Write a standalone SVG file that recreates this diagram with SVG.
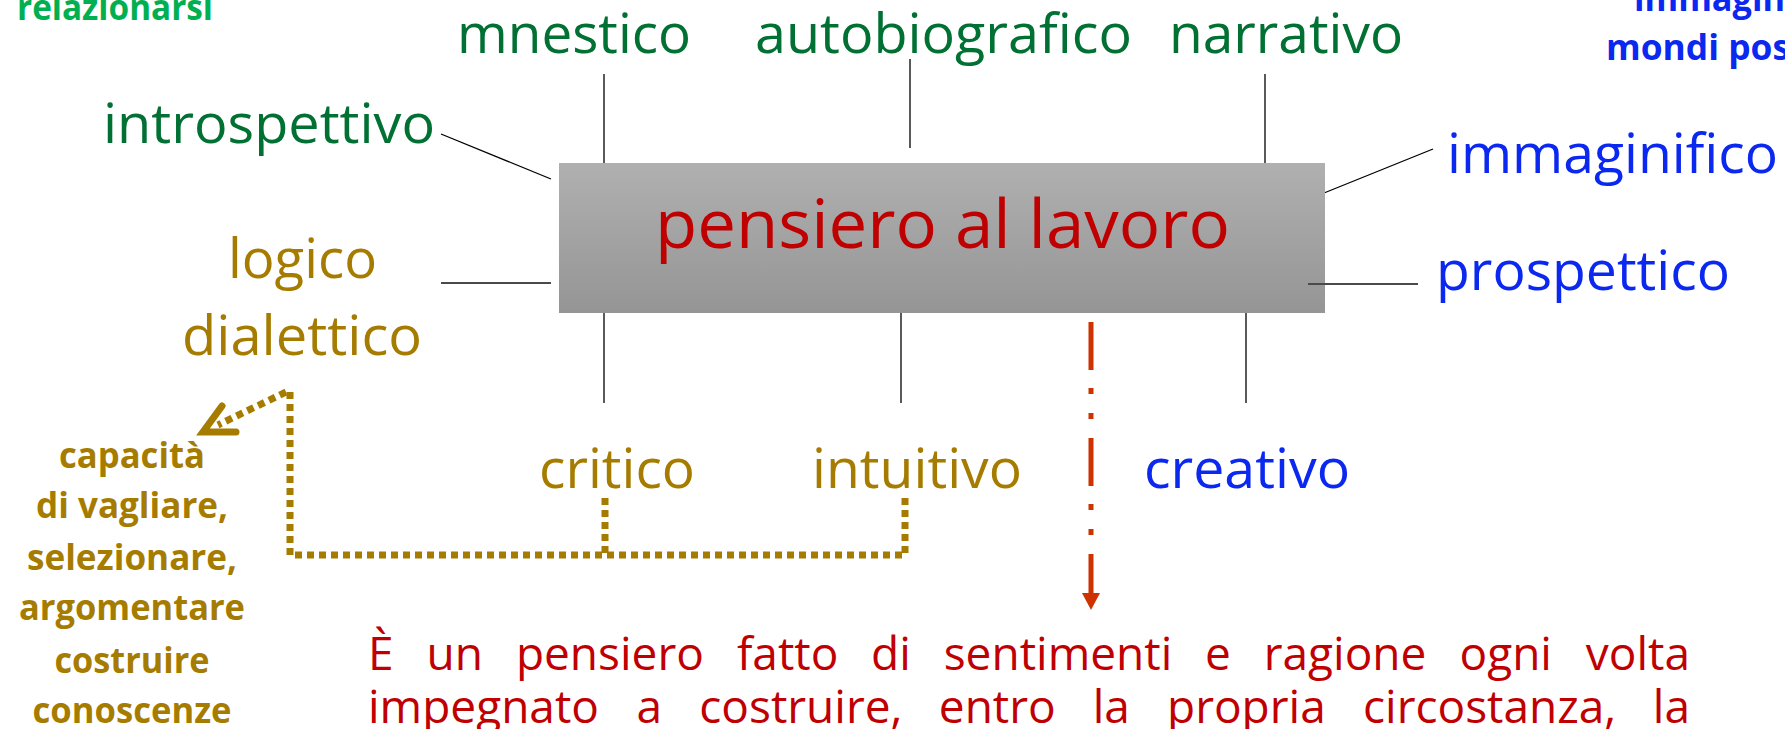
<svg xmlns="http://www.w3.org/2000/svg" width="1785" height="729" viewBox="0 0 1785 729">
<style>
  text { font-family: "Open Sans", "Noto Sans", "Liberation Sans", sans-serif; }
  .lbl { font-size: 55px; }
  .bold { font-weight: bold; font-size: 36px; }
  .green { fill: #007033; }
  .lgreen { fill: #00B050; }
  .gold { fill: #A67C00; }
  .blue { fill: #0A28F0; }
  .red { fill: #C00000; }
  .thin { stroke: #000; stroke-width: 1.3; fill: none; }
  .grey { stroke: #4a4a4a; stroke-width: 2.2; fill: none; }
  .dots { stroke: #A67C00; stroke-width: 7; fill: none; stroke-dasharray: 7 5; }
  .para { font-size: 46px; }
</style>
<defs>
  <linearGradient id="boxg" x1="0" y1="0" x2="0" y2="1">
    <stop offset="0" stop-color="#B0B0B0"/>
    <stop offset="1" stop-color="#959595"/>
  </linearGradient>
</defs>

<g id="corner-texts">
  <text class="bold lgreen" x="17" y="20" textLength="196" lengthAdjust="spacingAndGlyphs">relazionarsi</text>
  <text class="bold blue" x="1634" y="11" textLength="151" lengthAdjust="spacingAndGlyphs">immagin</text>
  <text class="bold blue" x="1606" y="60" textLength="184" lengthAdjust="spacingAndGlyphs">mondi pos</text>
</g>

<g id="connectors">
  <line class="thin" x1="441" y1="134" x2="551" y2="179"/>
  <line class="thin" x1="604" y1="74" x2="604" y2="163"/>
  <line class="thin" x1="910" y1="59" x2="910" y2="148"/>
  <line class="thin" x1="1265" y1="74" x2="1265" y2="163"/>
  <line class="thin" x1="1324" y1="193" x2="1433" y2="149"/>
  <line class="grey" x1="441" y1="283" x2="551" y2="283"/>
  <line class="thin" x1="604" y1="313" x2="604" y2="403"/>
  <line class="thin" x1="901" y1="313" x2="901" y2="403"/>
  <line class="thin" x1="1246" y1="313" x2="1246" y2="403"/>
  <path class="dots" d="M905,498 V555 H290 V390"/>
  <path class="dots" d="M605,498 V555"/>
  <path class="dots" d="M286,392 L218,425"/>
  <path d="M222,406 L203,432 L236,432" fill="none" stroke="#A67C00" stroke-width="7" stroke-linecap="round" stroke-linejoin="miter"/>
  <line x1="1091" y1="322" x2="1091" y2="594" stroke="#CC3300" stroke-width="5" stroke-dasharray="48 18 6 19 6 19"/>
  <polygon points="1082,593 1100,593 1091,610" fill="#CC3300"/>
</g>

<g id="center">
  <rect x="559" y="163" width="766" height="150" fill="url(#boxg)"/>
  <text class="red" x="655" y="248" font-size="68" textLength="575" lengthAdjust="spacingAndGlyphs">pensiero al lavoro</text>
  <line class="grey" x1="1308" y1="284" x2="1418" y2="284"/>
</g>

<g id="mnestico"><text class="lbl green" x="457" y="53" textLength="234" lengthAdjust="spacingAndGlyphs">mnestico</text></g>
<g id="autobiografico"><text class="lbl green" x="755" y="53" textLength="377" lengthAdjust="spacingAndGlyphs">autobiografico</text></g>
<g id="narrativo"><text class="lbl green" x="1169" y="53" textLength="234" lengthAdjust="spacingAndGlyphs">narrativo</text></g>
<g id="introspettivo"><text class="lbl green" x="103" y="143" textLength="332" lengthAdjust="spacingAndGlyphs">introspettivo</text></g>
<g id="immaginifico"><text class="lbl blue" x="1447" y="173" textLength="331" lengthAdjust="spacingAndGlyphs">immaginifico</text></g>
<g id="prospettico"><text class="lbl blue" x="1436" y="290" textLength="294" lengthAdjust="spacingAndGlyphs">prospettico</text></g>
<g id="logico-dialettico">
  <text class="lbl gold" x="228" y="278" textLength="149" lengthAdjust="spacingAndGlyphs">logico</text>
  <text class="lbl gold" x="182" y="355" textLength="240" lengthAdjust="spacingAndGlyphs">dialettico</text>
</g>
<g id="critico"><text class="lbl gold" x="539" y="488" textLength="156" lengthAdjust="spacingAndGlyphs">critico</text></g>
<g id="intuitivo"><text class="lbl gold" x="812" y="488" textLength="210" lengthAdjust="spacingAndGlyphs">intuitivo</text></g>
<g id="creativo"><text class="lbl blue" x="1144" y="488" textLength="206" lengthAdjust="spacingAndGlyphs">creativo</text></g>

<g id="capacita">
  <text class="bold gold" x="132" y="468" text-anchor="middle" textLength="146" lengthAdjust="spacingAndGlyphs">capacità</text>
  <text class="bold gold" x="132" y="518" text-anchor="middle" textLength="192" lengthAdjust="spacingAndGlyphs">di vagliare,</text>
  <text class="bold gold" x="132" y="570" text-anchor="middle" textLength="210" lengthAdjust="spacingAndGlyphs">selezionare,</text>
  <text class="bold gold" x="132" y="620" text-anchor="middle" textLength="226" lengthAdjust="spacingAndGlyphs">argomentare</text>
  <text class="bold gold" x="132" y="673" text-anchor="middle" textLength="155" lengthAdjust="spacingAndGlyphs">costruire</text>
  <text class="bold gold" x="132" y="723" text-anchor="middle" textLength="199" lengthAdjust="spacingAndGlyphs">conoscenze</text>
</g>

<g id="definizione">
  <text class="red para">
    <tspan x="368" y="670">È</tspan>
    <tspan x="426.6" y="670">un</tspan>
    <tspan x="515.9" y="670">pensiero</tspan>
    <tspan x="736.9" y="670">fatto</tspan>
    <tspan x="871.1" y="670">di</tspan>
    <tspan x="943.7" y="670">sentimenti</tspan>
    <tspan x="1205.1" y="670">e</tspan>
    <tspan x="1263.7" y="670">ragione</tspan>
    <tspan x="1459.5" y="670">ogni</tspan>
  </text>
  <text class="red para" x="1690" y="670" text-anchor="end">volta</text>
  <text class="red para">
    <tspan x="368" y="723">impegnato</tspan>
    <tspan x="636.6" y="723">a</tspan>
    <tspan x="699.3" y="723">costruire,</tspan>
    <tspan x="938.8" y="723">entro</tspan>
    <tspan x="1092.7" y="723">la</tspan>
    <tspan x="1167" y="723">propria</tspan>
    <tspan x="1363" y="723">circostanza,</tspan>
  </text>
  <text class="red para" x="1690" y="723" text-anchor="end">la</text>
</g>
</svg>
